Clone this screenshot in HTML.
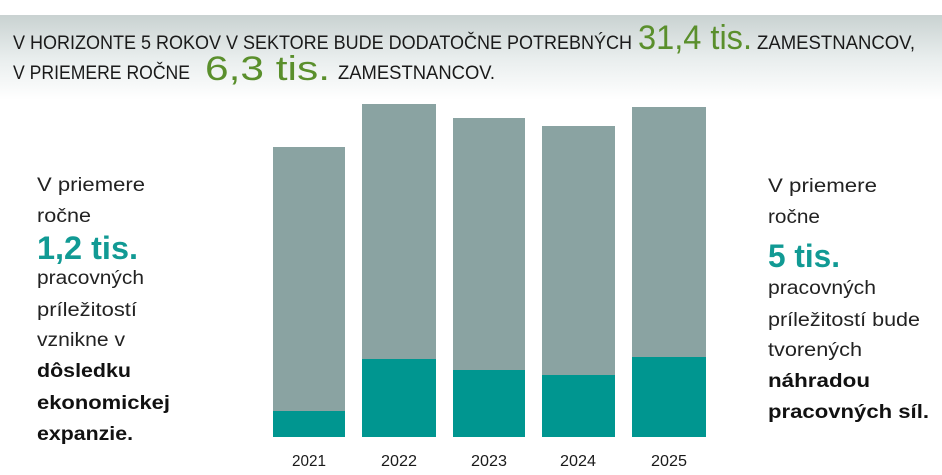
<!DOCTYPE html>
<html><head><meta charset="utf-8"><style>
html,body{margin:0;padding:0;background:#fff;}
svg{display:block;}
</style></head><body>
<svg width="942" height="475" viewBox="0 0 942 475" xmlns="http://www.w3.org/2000/svg" font-family="Liberation Sans, sans-serif">
<defs>
<linearGradient id="hg" x1="0" y1="0" x2="0" y2="1">
<stop offset="0" stop-color="#c9d2d1"/>
<stop offset="0.5" stop-color="#e8eded"/>
<stop offset="1" stop-color="#ffffff"/>
</linearGradient>
</defs>
<rect x="0" y="0" width="942" height="475" fill="#fff"/>
<rect x="0" y="15" width="942" height="85" fill="url(#hg)"/>
<g fill="#1a1a1a" font-size="19">
<text x="13" y="49" textLength="619" lengthAdjust="spacingAndGlyphs">V HORIZONTE 5 ROKOV V SEKTORE BUDE DODATOČNE POTREBNÝCH</text>
<text x="757" y="49" textLength="158" lengthAdjust="spacingAndGlyphs">ZAMESTNANCOV,</text>
<text x="13" y="79" textLength="177" lengthAdjust="spacingAndGlyphs">V PRIEMERE ROČNE</text>
<text x="338" y="79" textLength="157" lengthAdjust="spacingAndGlyphs">ZAMESTNANCOV.</text>
</g>
<g fill="#5a8f2c" font-size="34">
<text x="638" y="49" textLength="114" lengthAdjust="spacingAndGlyphs">31,4 tis.</text>
<text x="205" y="80" textLength="125" lengthAdjust="spacingAndGlyphs">6,3 tis.</text>
</g>
<g>
<rect x="273" y="147" width="72" height="290" fill="#8aa3a2"/><rect x="273" y="411" width="72" height="26" fill="#009690"/>
<rect x="362" y="104" width="74" height="333" fill="#8aa3a2"/><rect x="362" y="359" width="74" height="78" fill="#009690"/>
<rect x="453" y="118" width="72" height="319" fill="#8aa3a2"/><rect x="453" y="370" width="72" height="67" fill="#009690"/>
<rect x="542" y="126" width="73" height="311" fill="#8aa3a2"/><rect x="542" y="375" width="73" height="62" fill="#009690"/>
<rect x="632" y="107" width="74" height="330" fill="#8aa3a2"/><rect x="632" y="357" width="74" height="80" fill="#009690"/>
</g>
<g fill="#1a1a1a" font-size="16" text-anchor="middle">
<text x="309" y="466" textLength="34" lengthAdjust="spacingAndGlyphs">2021</text><text x="399" y="466" textLength="36" lengthAdjust="spacingAndGlyphs">2022</text><text x="489" y="466" textLength="36" lengthAdjust="spacingAndGlyphs">2023</text><text x="578" y="466" textLength="36" lengthAdjust="spacingAndGlyphs">2024</text><text x="669" y="466" textLength="36" lengthAdjust="spacingAndGlyphs">2025</text>
</g>
<g fill="#222" font-size="19">
<text x="37" y="191" textLength="108" lengthAdjust="spacingAndGlyphs">V priemere</text>
<text x="37" y="222" textLength="54" lengthAdjust="spacingAndGlyphs">ročne</text>
<text x="37" y="284" textLength="107" lengthAdjust="spacingAndGlyphs">pracovných</text>
<text x="37" y="316" textLength="100" lengthAdjust="spacingAndGlyphs">príležitostí</text>
<text x="37" y="346" textLength="88" lengthAdjust="spacingAndGlyphs">vznikne v</text>
<text x="37" y="377" font-weight="bold" fill="#111" textLength="94" lengthAdjust="spacingAndGlyphs">dôsledku</text>
<text x="37" y="409" font-weight="bold" fill="#111" textLength="133" lengthAdjust="spacingAndGlyphs">ekonomickej</text>
<text x="37" y="440" font-weight="bold" fill="#111" textLength="96" lengthAdjust="spacingAndGlyphs">expanzie.</text>
<text x="768" y="192" textLength="109" lengthAdjust="spacingAndGlyphs">V priemere</text>
<text x="768" y="223" textLength="52" lengthAdjust="spacingAndGlyphs">ročne</text>
<text x="768" y="294" textLength="108" lengthAdjust="spacingAndGlyphs">pracovných</text>
<text x="768" y="326" textLength="152" lengthAdjust="spacingAndGlyphs">príležitostí bude</text>
<text x="768" y="356" textLength="94" lengthAdjust="spacingAndGlyphs">tvorených</text>
<text x="768" y="387" font-weight="bold" fill="#111" textLength="102" lengthAdjust="spacingAndGlyphs">náhradou</text>
<text x="768" y="418" font-weight="bold" fill="#111" textLength="161" lengthAdjust="spacingAndGlyphs">pracovných síl.</text>
</g>
<g fill="#119a94" font-size="32" font-weight="bold">
<text x="37" y="259" textLength="101" lengthAdjust="spacingAndGlyphs">1,2 tis.</text>
<text x="768" y="267" textLength="72" lengthAdjust="spacingAndGlyphs">5 tis.</text>
</g>
</svg>
</body></html>
